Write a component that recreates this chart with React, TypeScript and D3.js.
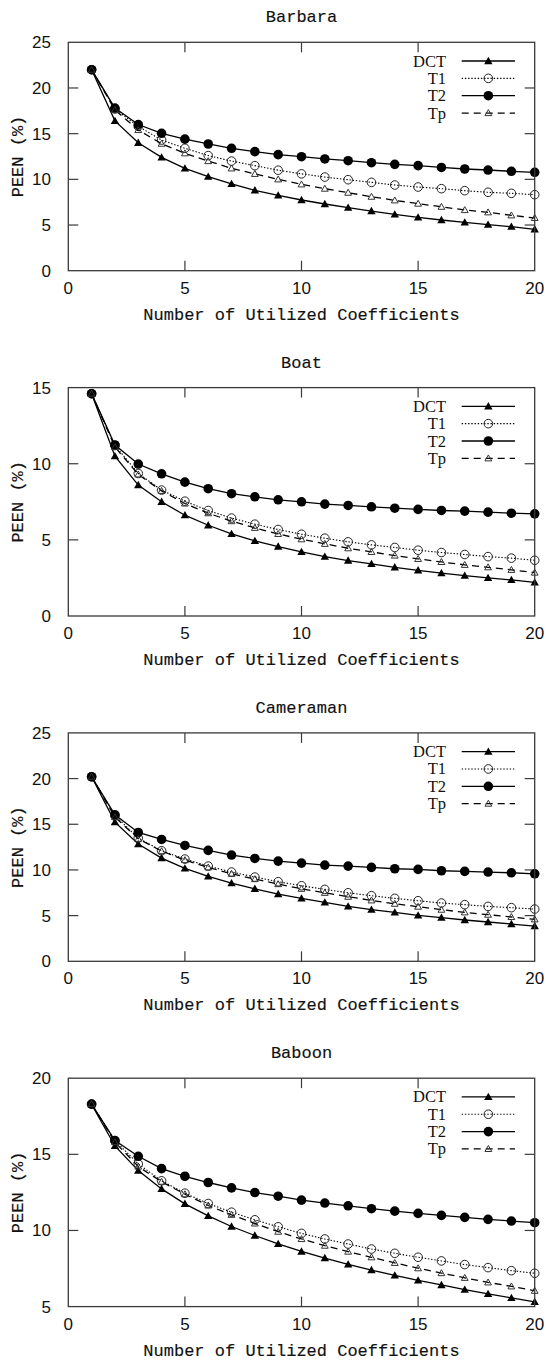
import React from "react";
import * as d3 from "d3";

const xValues = d3.range(1, 21);
const seriesNames = ["DCT", "T1", "T2", "Tp"];
const panelTitles = ["Barbara", "Boat", "Cameraman", "Baboon"];
const yDomains: [number, number][] = [[0, 25], [0, 15], [0, 25], [5, 20]];
const xTicks = [0, 5, 10, 15, 20];
const yTickLists = [[0, 5, 10, 15, 20, 25], [0, 5, 10, 15], [0, 5, 10, 15, 20, 25], [5, 10, 15, 20]];

const barbaraDCT = [22.0, 16.4, 14.0, 12.4, 11.2, 10.3, 9.5, 8.8, 8.25, 7.74, 7.3, 6.9, 6.53, 6.17, 5.84, 5.55, 5.29, 5.04, 4.82, 4.53];
const barbaraT1 = [22.0, 17.7, 15.8, 14.3, 13.4, 12.6, 12.0, 11.5, 11.0, 10.6, 10.25, 9.96, 9.67, 9.38, 9.16, 8.98, 8.76, 8.58, 8.47, 8.32];
const barbaraT2 = [22.0, 17.8, 16.0, 15.04, 14.4, 13.87, 13.4, 13.03, 12.7, 12.48, 12.23, 12.04, 11.82, 11.64, 11.5, 11.3, 11.13, 11.02, 10.88, 10.77];
const barbaraTp = [22.0, 17.6, 15.4, 13.9, 12.85, 12.0, 11.2, 10.6, 10.0, 9.45, 8.98, 8.54, 8.1, 7.7, 7.34, 7.0, 6.64, 6.39, 6.06, 5.77];

const boatDCT = [14.6, 10.5, 8.6, 7.5, 6.62, 5.96, 5.39, 4.93, 4.56, 4.21, 3.9, 3.64, 3.42, 3.2, 3.0, 2.81, 2.65, 2.5, 2.37, 2.21];
const boatT1 = [14.6, 11.2, 9.36, 8.27, 7.54, 6.93, 6.43, 6.03, 5.68, 5.37, 5.11, 4.87, 4.67, 4.5, 4.32, 4.17, 4.04, 3.9, 3.8, 3.66];
const boatT2 = [14.6, 11.23, 9.98, 9.34, 8.79, 8.36, 8.03, 7.83, 7.63, 7.5, 7.35, 7.26, 7.17, 7.08, 7.0, 6.93, 6.89, 6.82, 6.75, 6.71];
const boatTp = [14.6, 11.1, 9.3, 8.22, 7.39, 6.75, 6.23, 5.79, 5.39, 5.04, 4.74, 4.45, 4.21, 3.97, 3.75, 3.55, 3.36, 3.2, 3.03, 2.85];

const cameramanDCT = [20.2, 15.23, 12.83, 11.3, 10.17, 9.29, 8.56, 7.94, 7.36, 6.89, 6.45, 6.01, 5.65, 5.36, 5.03, 4.77, 4.52, 4.3, 4.08, 3.86];
const cameramanT1 = [20.2, 15.96, 13.48, 12.1, 11.19, 10.42, 9.77, 9.22, 8.71, 8.27, 7.87, 7.5, 7.18, 6.89, 6.63, 6.38, 6.2, 6.01, 5.87, 5.72];
const cameramanT2 = [20.2, 16.03, 14.1, 13.34, 12.68, 12.14, 11.63, 11.26, 10.97, 10.75, 10.53, 10.42, 10.28, 10.13, 10.06, 9.91, 9.84, 9.77, 9.69, 9.58];
const cameramanTp = [20.2, 15.78, 13.41, 12.06, 11.08, 10.28, 9.58, 9.0, 8.45, 7.94, 7.5, 7.07, 6.67, 6.3, 5.98, 5.65, 5.36, 5.1, 4.85, 4.59];

const baboonDCT = [18.28, 15.55, 13.93, 12.73, 11.75, 10.96, 10.26, 9.67, 9.12, 8.62, 8.19, 7.77, 7.4, 7.05, 6.72, 6.42, 6.11, 5.83, 5.57, 5.31];
const baboonT1 = [18.3, 15.9, 14.37, 13.26, 12.45, 11.77, 11.2, 10.7, 10.24, 9.81, 9.44, 9.11, 8.78, 8.5, 8.24, 8.0, 7.76, 7.56, 7.36, 7.19];
const baboonT2 = [18.3, 15.9, 14.87, 14.06, 13.56, 13.15, 12.8, 12.49, 12.25, 11.99, 11.8, 11.62, 11.43, 11.27, 11.12, 10.99, 10.86, 10.73, 10.62, 10.51];
const baboonTp = [18.3, 15.8, 14.2, 13.2, 12.38, 11.64, 11.03, 10.46, 9.92, 9.44, 9.0, 8.61, 8.24, 7.87, 7.52, 7.2, 6.89, 6.59, 6.33, 6.04];

const panelData = [
  [barbaraDCT, barbaraT1, barbaraT2, barbaraTp],
  [boatDCT, boatT1, boatT2, boatTp],
  [cameramanDCT, cameramanT1, cameramanT2, cameramanTp],
  [baboonDCT, baboonT1, baboonT2, baboonTp],
];

const W = 546;
const H = 1363;
const LEFT = 68.3;
const RIGHT = 534.7;
const TOP0 = 42.3;
const STEP = 345.3;
const PH = 228.4;
const TICK = 10;
const MONO = "'Liberation Mono', 'Courier New', monospace";
const SANS = "'Liberation Sans', Arial, sans-serif";
const SERIF = "'Liberation Serif', 'Times New Roman', serif";
const FRAME = "#3a3a3a";

const styles = [
  { dash: undefined as string | undefined, marker: "tri" },
  { dash: "1.4,1.8", marker: "circ" },
  { dash: undefined as string | undefined, marker: "dot" },
  { dash: "7,5", marker: "otri" },
];

function Marker({ type, x, y }: { type: string; x: number; y: number }) {
  if (type === "tri") {
    const s = 4.2;
    return <path d={`M${x},${y - s}L${x + s},${y + s * 0.75}L${x - s},${y + s * 0.75}Z`} fill="#000" />;
  }
  if (type === "otri") {
    const s = 3.4;
    return (
      <path
        d={`M${x},${y - s}L${x + s},${y + s * 0.75}L${x - s},${y + s * 0.75}Z`}
        fill="none"
        stroke="#333"
        strokeWidth={1}
      />
    );
  }
  if (type === "circ") {
    return <circle cx={x} cy={y} r={4.3} fill="none" stroke="#222" strokeWidth={1} />;
  }
  return <circle cx={x} cy={y} r={4.8} fill="#000" />;
}

const monoStyle = { fontFamily: MONO, fontSize: 17, fill: "#111", stroke: "#111", strokeWidth: 0.15 };

function Panel({ idx }: { idx: number }) {
  const top = TOP0 + idx * STEP;
  const bottom = top + PH;
  const x = d3.scaleLinear().domain([0, 20]).range([LEFT, RIGHT]);
  const y = d3.scaleLinear().domain(yDomains[idx]).range([bottom, top]);
  const line = d3
    .line<number>()
    .x((_, i) => x(xValues[i]))
    .y((d) => y(d));
  const cx = (LEFT + RIGHT) / 2;
  const cy = (top + bottom) / 2;
  const legX1 = 461.7;
  const legX2 = 515;
  const legTextX = 446;
  return (
    <g>
      <text x={cx} y={top - 20} textAnchor="middle" style={monoStyle}>
        {panelTitles[idx]}
      </text>
      {xTicks.slice(1, -1).map((t) => (
        <g key={"xt" + t}>
          <line x1={x(t)} x2={x(t)} y1={bottom} y2={bottom - TICK} stroke={FRAME} strokeWidth={1.2} />
          <line x1={x(t)} x2={x(t)} y1={top} y2={top + TICK} stroke={FRAME} strokeWidth={1.2} />
        </g>
      ))}
      {yTickLists[idx].slice(1, -1).map((t) => (
        <g key={"yt" + t}>
          <line x1={LEFT} x2={LEFT + TICK} y1={y(t)} y2={y(t)} stroke={FRAME} strokeWidth={1.2} />
          <line x1={RIGHT} x2={RIGHT - TICK} y1={y(t)} y2={y(t)} stroke={FRAME} strokeWidth={1.2} />
        </g>
      ))}
      {xTicks.map((t) => (
        <text key={"xl" + t} x={x(t)} y={bottom + 23} textAnchor="middle" fontFamily={SANS} fontSize={17} fill="#111">
          {t}
        </text>
      ))}
      {yTickLists[idx].map((t) => (
        <text key={"yl" + t} x={51} y={y(t) + 6} textAnchor="end" fontFamily={SANS} fontSize={17} fill="#111">
          {t}
        </text>
      ))}
      <text x={cx} y={bottom + 49} textAnchor="middle" style={monoStyle}>
        Number of Utilized Coefficients
      </text>
      <text transform={`translate(${23},${cy}) rotate(-90)`} textAnchor="middle" style={monoStyle}>
        PEEN (%)
      </text>
      {panelData[idx].map((vals, si) => (
        <g key={"s" + si}>
          <path
            d={line(vals) || ""}
            fill="none"
            stroke="#000"
            strokeWidth={si === 1 ? 1.1 : 1.3}
            strokeDasharray={styles[si].dash}
          />
          {vals.map((v, i) => (
            <Marker key={i} type={styles[si].marker} x={x(xValues[i])} y={y(v)} />
          ))}
        </g>
      ))}
      {seriesNames.map((name, si) => {
        const ly = top + 18.7 + si * 17.35;
        return (
          <g key={"lg" + si}>
            <text x={legTextX} y={ly + 5.5} textAnchor="end" fontFamily={SERIF} fontSize={16.5} fill="#111">
              {name}
            </text>
            <line
              x1={legX1}
              x2={legX2}
              y1={ly}
              y2={ly}
              stroke="#000"
              strokeWidth={si === 1 ? 1.1 : 1.3}
              strokeDasharray={styles[si].dash}
            />
            <Marker type={styles[si].marker} x={(legX1 + legX2) / 2} y={ly} />
          </g>
        );
      })}
      <rect x={LEFT} y={top} width={RIGHT - LEFT} height={PH} fill="none" stroke={FRAME} strokeWidth={1.3} />
    </g>
  );
}

export default function App() {
  return (
    <div style={{ position: "absolute", left: 0, top: 0, width: W, height: H }}>
      <svg width={W} height={H} viewBox={`0 0 ${W} ${H}`} style={{ display: "block", background: "#fff" }}>
        <rect x={0} y={0} width={W} height={H} fill="#fff" />
        {[0, 1, 2, 3].map((i) => (
          <Panel key={i} idx={i} />
        ))}
      </svg>
    </div>
  );
}
